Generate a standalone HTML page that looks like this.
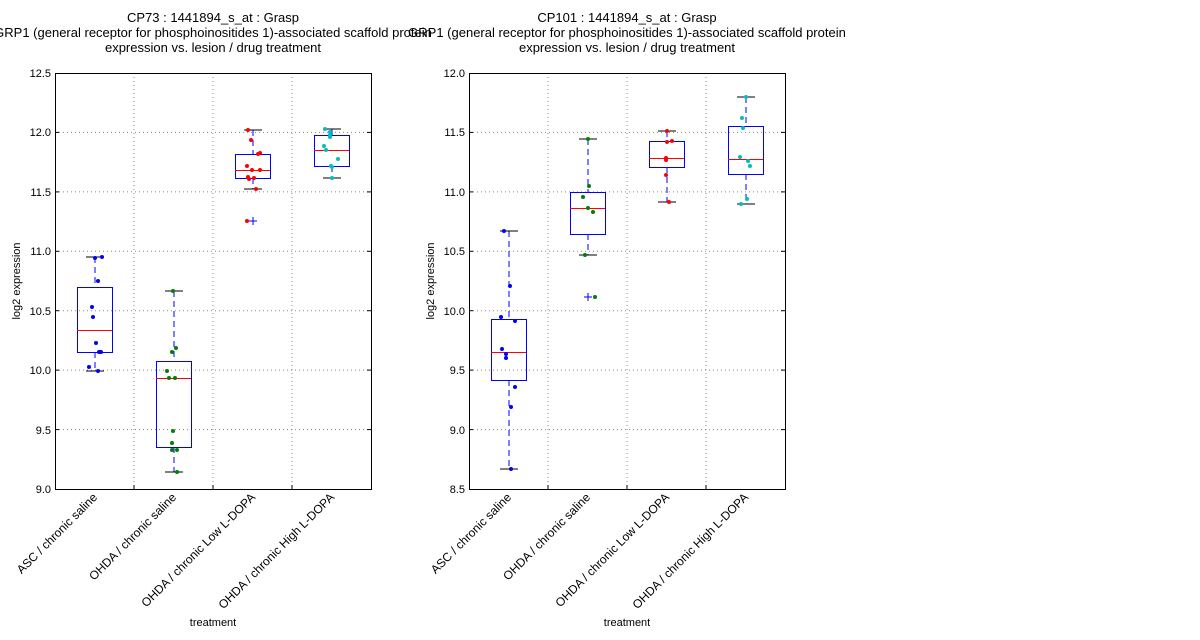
<!DOCTYPE html>
<html><head><meta charset="utf-8"><style>body{margin:0;background:#fff}svg{display:block}text{font-family:"Liberation Sans","DejaVu Sans",sans-serif}</style></head><body>
<svg width="1200" height="640" viewBox="0 0 1200 640" xmlns="http://www.w3.org/2000/svg">
<g font-size="13" text-anchor="middle" fill="#000">
<text x="213" y="22">CP73 : 1441894_s_at : Grasp</text>
<text x="213" y="37">GRP1 (general receptor for phosphoinositides 1)-associated scaffold protein</text>
<text x="213" y="52">expression vs. lesion / drug treatment</text>
<text x="627" y="22">CP101 : 1441894_s_at : Grasp</text>
<text x="627" y="37">GRP1 (general receptor for phosphoinositides 1)-associated scaffold protein</text>
<text x="627" y="52">expression vs. lesion / drug treatment</text>
</g>
<g id="L">
<g stroke="#888" stroke-width="1" stroke-dasharray="1,3">
<line x1="55" x2="371" y1="132.4" y2="132.4"/><line x1="55" x2="371" y1="191.9" y2="191.9"/><line x1="55" x2="371" y1="251.3" y2="251.3"/><line x1="55" x2="371" y1="310.7" y2="310.7"/><line x1="55" x2="371" y1="370.1" y2="370.1"/><line x1="55" x2="371" y1="429.6" y2="429.6"/>
<line x1="134" x2="134" y1="73" y2="489"/><line x1="213" x2="213" y1="73" y2="489"/><line x1="292" x2="292" y1="73" y2="489"/>
</g>
<g stroke="#000"><line x1="55" x2="59" y1="132.4" y2="132.4"/><line x1="55" x2="59" y1="191.9" y2="191.9"/><line x1="55" x2="59" y1="251.3" y2="251.3"/><line x1="55" x2="59" y1="310.7" y2="310.7"/><line x1="55" x2="59" y1="370.1" y2="370.1"/><line x1="55" x2="59" y1="429.6" y2="429.6"/>
<line x1="367" x2="371" y1="132.4" y2="132.4"/><line x1="367" x2="371" y1="191.9" y2="191.9"/><line x1="367" x2="371" y1="251.3" y2="251.3"/><line x1="367" x2="371" y1="310.7" y2="310.7"/><line x1="367" x2="371" y1="370.1" y2="370.1"/><line x1="367" x2="371" y1="429.6" y2="429.6"/>
<line x1="134" x2="134" y1="489" y2="485"/><line x1="213" x2="213" y1="489" y2="485"/><line x1="292" x2="292" y1="489" y2="485"/></g>
<g font-size="11" text-anchor="end"><text x="51" y="77">12.5</text><text x="51" y="136">12.0</text><text x="51" y="196">11.5</text><text x="51" y="255">11.0</text><text x="51" y="315">10.5</text><text x="51" y="374">10.0</text><text x="51" y="434">9.5</text><text x="51" y="493">9.0</text></g>
<g stroke="#00f" stroke-dasharray="6,4"><line x1="95" x2="95" y1="257" y2="287"/><line x1="95" x2="95" y1="352" y2="371"/><line x1="174" x2="174" y1="291" y2="361"/><line x1="174" x2="174" y1="447" y2="472"/><line x1="253" x2="253" y1="130" y2="154"/><line x1="253" x2="253" y1="178" y2="189"/><line x1="332" x2="332" y1="129" y2="135"/><line x1="332" x2="332" y1="166" y2="178"/></g>
<g stroke="#000"><line x1="86" x2="104" y1="257" y2="257"/><line x1="86" x2="104" y1="371" y2="371"/><line x1="165" x2="183" y1="291" y2="291"/><line x1="165" x2="183" y1="472" y2="472"/><line x1="244" x2="262" y1="130" y2="130"/><line x1="244" x2="262" y1="189" y2="189"/><line x1="323" x2="341" y1="129" y2="129"/><line x1="323" x2="341" y1="178" y2="178"/></g>
<g stroke="#00f" fill="none"><rect x="77.5" y="287.5" width="35" height="65"/><rect x="156.5" y="361.5" width="35" height="86"/><rect x="235.5" y="154.5" width="35" height="24"/><rect x="314.5" y="135.5" width="35" height="31"/>
<path d="M249 221h8M253 217v8"/></g>
<g stroke="#f00"><line x1="77" x2="112" y1="330.5" y2="330.5"/><line x1="156" x2="191" y1="378.5" y2="378.5"/><line x1="235" x2="270" y1="170.5" y2="170.5"/><line x1="314" x2="349" y1="150.5" y2="150.5"/></g>
<g fill="#00f"><circle cx="95" cy="258" r="2"/><circle cx="102" cy="257" r="2"/><circle cx="98" cy="281" r="2"/><circle cx="92" cy="307" r="2"/><circle cx="93" cy="317" r="2"/><circle cx="96" cy="343" r="2"/><circle cx="99" cy="352" r="2"/><circle cx="101" cy="352" r="2"/><circle cx="89" cy="367" r="2"/><circle cx="98" cy="371" r="2"/></g>
<g fill="#008000"><circle cx="173" cy="291" r="2"/><circle cx="172" cy="352" r="2"/><circle cx="176" cy="348" r="2"/><circle cx="167" cy="371" r="2"/><circle cx="169" cy="378" r="2"/><circle cx="175" cy="378" r="2"/><circle cx="173" cy="431" r="2"/><circle cx="172" cy="443" r="2"/><circle cx="172" cy="450" r="2"/><circle cx="177" cy="450" r="2"/><circle cx="177" cy="472" r="2"/></g>
<g fill="#f00"><circle cx="248" cy="130" r="2"/><circle cx="251" cy="140" r="2"/><circle cx="258" cy="154" r="2"/><circle cx="260" cy="153" r="2"/><circle cx="247" cy="166" r="2"/><circle cx="252" cy="170" r="2"/><circle cx="260" cy="170" r="2"/><circle cx="248" cy="177" r="2"/><circle cx="249" cy="179" r="2"/><circle cx="254" cy="178" r="2"/><circle cx="256" cy="189" r="2"/><circle cx="247" cy="221" r="2"/></g>
<g fill="#00bfbf"><circle cx="325" cy="129" r="2"/><circle cx="330" cy="132" r="2"/><circle cx="330" cy="135" r="2"/><circle cx="330" cy="137" r="2"/><circle cx="324" cy="146" r="2"/><circle cx="326" cy="150" r="2"/><circle cx="338" cy="159" r="2"/><circle cx="331" cy="166" r="2"/><circle cx="332" cy="167" r="2"/><circle cx="332" cy="178" r="2"/></g>
<rect x="55.5" y="73.5" width="316" height="416" fill="none" stroke="#000"/>
<g font-size="12" text-anchor="end"><text transform="translate(98,498) rotate(-45)">ASC / chronic saline</text><text transform="translate(177,498) rotate(-45)">OHDA / chronic saline</text><text transform="translate(256,498) rotate(-45)">OHDA / chronic Low L-DOPA</text><text transform="translate(335,498) rotate(-45)">OHDA / chronic High L-DOPA</text></g>
<text x="213" y="626" font-size="11" text-anchor="middle">treatment</text>
<text transform="translate(20,281) rotate(-90)" font-size="11" text-anchor="middle">log2 expression</text>
</g>
<g id="R">
<g stroke="#888" stroke-width="1" stroke-dasharray="1,3">
<line x1="469" x2="785" y1="132.4" y2="132.4"/><line x1="469" x2="785" y1="191.9" y2="191.9"/><line x1="469" x2="785" y1="251.3" y2="251.3"/><line x1="469" x2="785" y1="310.7" y2="310.7"/><line x1="469" x2="785" y1="370.1" y2="370.1"/><line x1="469" x2="785" y1="429.6" y2="429.6"/>
<line x1="548" x2="548" y1="73" y2="489"/><line x1="627" x2="627" y1="73" y2="489"/><line x1="706" x2="706" y1="73" y2="489"/>
</g>
<g stroke="#000"><line x1="469" x2="473" y1="132.4" y2="132.4"/><line x1="469" x2="473" y1="191.9" y2="191.9"/><line x1="469" x2="473" y1="251.3" y2="251.3"/><line x1="469" x2="473" y1="310.7" y2="310.7"/><line x1="469" x2="473" y1="370.1" y2="370.1"/><line x1="469" x2="473" y1="429.6" y2="429.6"/>
<line x1="781" x2="785" y1="132.4" y2="132.4"/><line x1="781" x2="785" y1="191.9" y2="191.9"/><line x1="781" x2="785" y1="251.3" y2="251.3"/><line x1="781" x2="785" y1="310.7" y2="310.7"/><line x1="781" x2="785" y1="370.1" y2="370.1"/><line x1="781" x2="785" y1="429.6" y2="429.6"/>
<line x1="548" x2="548" y1="489" y2="485"/><line x1="627" x2="627" y1="489" y2="485"/><line x1="706" x2="706" y1="489" y2="485"/></g>
<g font-size="11" text-anchor="end"><text x="465" y="77">12.0</text><text x="465" y="136">11.5</text><text x="465" y="196">11.0</text><text x="465" y="255">10.5</text><text x="465" y="315">10.0</text><text x="465" y="374">9.5</text><text x="465" y="434">9.0</text><text x="465" y="493">8.5</text></g>
<g stroke="#00f" stroke-dasharray="6,4"><line x1="509" x2="509" y1="231" y2="319"/><line x1="509" x2="509" y1="380" y2="469"/><line x1="588" x2="588" y1="139" y2="192"/><line x1="588" x2="588" y1="234" y2="255"/><line x1="667" x2="667" y1="131" y2="141"/><line x1="667" x2="667" y1="167" y2="202"/><line x1="746" x2="746" y1="97" y2="126"/><line x1="746" x2="746" y1="174" y2="204"/></g>
<g stroke="#000"><line x1="500" x2="518" y1="231" y2="231"/><line x1="500" x2="518" y1="469" y2="469"/><line x1="579" x2="597" y1="139" y2="139"/><line x1="579" x2="597" y1="255" y2="255"/><line x1="658" x2="676" y1="131" y2="131"/><line x1="658" x2="676" y1="202" y2="202"/><line x1="737" x2="755" y1="97" y2="97"/><line x1="737" x2="755" y1="204" y2="204"/></g>
<g stroke="#00f" fill="none"><rect x="491.5" y="319.5" width="35" height="61"/><rect x="570.5" y="192.5" width="35" height="42"/><rect x="649.5" y="141.5" width="35" height="26"/><rect x="728.5" y="126.5" width="35" height="48"/>
<path d="M584 297h8M588 293v8"/></g>
<g stroke="#f00"><line x1="491" x2="526" y1="352.5" y2="352.5"/><line x1="570" x2="605" y1="208.5" y2="208.5"/><line x1="649" x2="684" y1="158.5" y2="158.5"/><line x1="728" x2="763" y1="159.5" y2="159.5"/></g>
<g fill="#00f"><circle cx="504" cy="231" r="2"/><circle cx="510" cy="286" r="2"/><circle cx="501" cy="317" r="2"/><circle cx="515" cy="321" r="2"/><circle cx="502" cy="349" r="2"/><circle cx="506" cy="354" r="2"/><circle cx="506" cy="358" r="2"/><circle cx="515" cy="387" r="2"/><circle cx="511" cy="407" r="2"/><circle cx="511" cy="469" r="2"/></g>
<g fill="#008000"><circle cx="588" cy="139" r="2"/><circle cx="589" cy="186" r="2"/><circle cx="583" cy="197" r="2"/><circle cx="588" cy="208" r="2"/><circle cx="593" cy="212" r="2"/><circle cx="585" cy="255" r="2"/><circle cx="595" cy="297" r="2"/></g>
<g fill="#f00"><circle cx="667" cy="131" r="2"/><circle cx="667" cy="142" r="2"/><circle cx="672" cy="141" r="2"/><circle cx="666" cy="158" r="2"/><circle cx="666" cy="160" r="2"/><circle cx="666" cy="175" r="2"/><circle cx="669" cy="202" r="2"/></g>
<g fill="#00bfbf"><circle cx="746" cy="97" r="2"/><circle cx="742" cy="118" r="2"/><circle cx="743" cy="128" r="2"/><circle cx="740" cy="157" r="2"/><circle cx="748" cy="161" r="2"/><circle cx="750" cy="166" r="2"/><circle cx="747" cy="199" r="2"/><circle cx="741" cy="204" r="2"/></g>
<rect x="469.5" y="73.5" width="316" height="416" fill="none" stroke="#000"/>
<g font-size="12" text-anchor="end"><text transform="translate(512,498) rotate(-45)">ASC / chronic saline</text><text transform="translate(591,498) rotate(-45)">OHDA / chronic saline</text><text transform="translate(670,498) rotate(-45)">OHDA / chronic Low L-DOPA</text><text transform="translate(749,498) rotate(-45)">OHDA / chronic High L-DOPA</text></g>
<text x="627" y="626" font-size="11" text-anchor="middle">treatment</text>
<text transform="translate(434,281) rotate(-90)" font-size="11" text-anchor="middle">log2 expression</text>
</g>
</svg>
</body></html>
